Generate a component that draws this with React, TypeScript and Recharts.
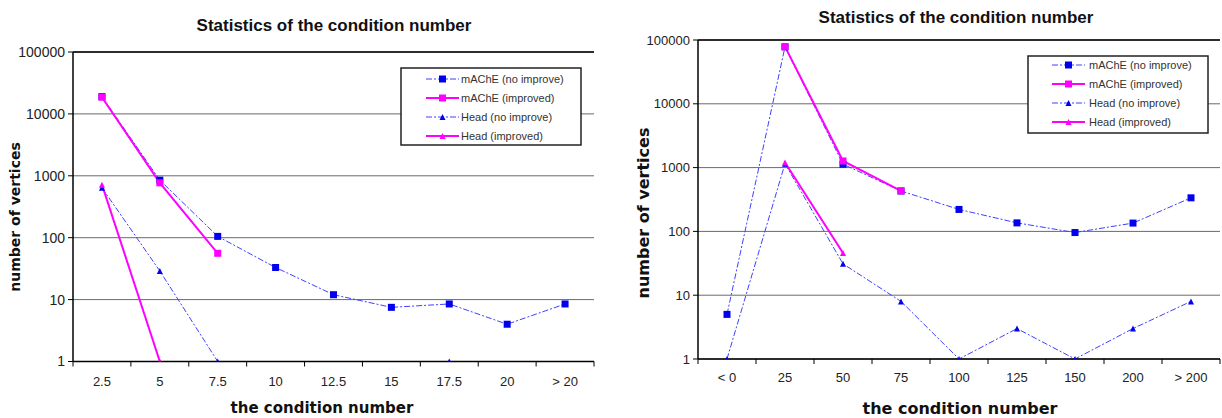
import React from "react";
import { LineChart, Line, XAxis, YAxis, CartesianGrid, ReferenceLine } from "recharts";

// left panel
const categoriesLeft = ["2.5", "5", "7.5", "10", "12.5", "15", "17.5", "20", "> 20"];
const macheNoLeft = [19000, 850, 105, 33, 12, 7.5, 8.5, 4, 8.5];
const macheImpLeft = [18600, 770, 56, null, null, null, null, null, null];
const headNoLeft = [640, 29, 1, null, null, null, 1, null, null];
const headImpLeft = [720, 1, null, null, null, null, null, null, null];

// right panel
const categoriesRight = ["< 0", "25", "50", "75", "100", "125", "150", "200", "> 200"];
const macheNoRight = [5, 78000, 1130, 430, 221, 136, 96, 135, 336];
const macheImpRight = [null, 78700, 1270, 432, null, null, null, null, null];
const headNoRight = [1, 1150, 31, 8, 1, 3, 1, 3, 8];
const headImpRight = [null, 1200, 46, null, null, null, null, null, null];

const yTicks = [1, 10, 100, 1000, 10000, 100000];
const seriesNames = ["mAChE (no improve)", "mAChE (improved)", "Head (no improve)", "Head (improved)"];

const BLUE = "#0000ee";
const BLUE_LINE = "#4040ff";
const MAGENTA = "#ff00ff";
const DASH = "6 2 2 2";
const ARIAL = "Arial, 'Liberation Sans'";

const square = (color: string, size: number) => (p: any) => {
  if (p.cx == null || p.cy == null || p.value == null) return <g key={p.index} />;
  return <rect key={p.index} x={p.cx - size / 2} y={p.cy - size / 2} width={size} height={size} fill={color} />;
};
const triangle = (color: string, size: number) => (p: any) => {
  if (p.cx == null || p.cy == null || p.value == null) return <g key={p.index} />;
  const h = size / 2;
  return <polygon key={p.index} points={`${p.cx},${p.cy - h} ${p.cx + h},${p.cy + h} ${p.cx - h},${p.cy + h}`} fill={color} />;
};

type PanelProps = {
  categories: string[];
  mNo: (number | null)[];
  mImp: (number | null)[];
  hNo: (number | null)[];
  hImp: (number | null)[];
  width: number;
  margin: { top: number; right: number; bottom: number; left: number };
  band: number;
  labelDy: number;
  yFont: number;
};

function Panel({ categories, mNo, mImp, hNo, hImp, width, margin, band, labelDy, yFont }: PanelProps) {
  const data = categories.map((c, i) => ({ cat: c, mNo: mNo[i], mImp: mImp[i], hNo: hNo[i], hImp: hImp[i] }));
  const last = categories.length - 1;
  const XTick = (p: any) => {
    const half = band / 2;
    return (
      <g>
        <line x1={p.x - half} y1={p.y} x2={p.x - half} y2={p.y + 5} stroke="#000" />
        {p.index === last && <line x1={p.x + half} y1={p.y} x2={p.x + half} y2={p.y + 5} stroke="#000" />}
        <text x={p.x} y={p.y + labelDy} textAnchor="middle" fontSize={13} fill="#222" fontFamily={ARIAL}>
          {p.payload.value}
        </text>
      </g>
    );
  };
  return (
    <LineChart width={width} height={418} data={data} margin={margin}>
      <CartesianGrid vertical={false} stroke="#6a6a6a" />
      <XAxis dataKey="cat" scale="band" height={30} tickSize={0} tickMargin={0} tickLine={false} axisLine={{ stroke: "#000", strokeWidth: 1.5 }} tick={XTick} interval={0} />
      <YAxis
        scale="log"
        type="number"
        domain={[1, 100000]}
        ticks={yTicks}
        allowDataOverflow
        width={60}
        tickSize={5}
        tickMargin={3}
        tickLine={{ stroke: "#000" }}
        axisLine={{ stroke: "#000", strokeWidth: 1.5 }}
        tick={{ fontSize: yFont, fill: "#222", fontFamily: ARIAL }}
      />
      <YAxis yAxisId="r" orientation="right" width={0} domain={[0, 1]} type="number" tick={false} tickLine={false} axisLine={{ stroke: "#000", strokeWidth: 1.5 }} />
      <ReferenceLine y={100000} stroke="#000" strokeWidth={1.5} />
      <Line dataKey="mNo" stroke={BLUE_LINE} strokeWidth={1} strokeDasharray={DASH} dot={square(BLUE, 7)} isAnimationActive={false} />
      <Line dataKey="mImp" stroke={MAGENTA} strokeWidth={2} dot={square(MAGENTA, 7)} isAnimationActive={false} />
      <Line dataKey="hNo" stroke={BLUE_LINE} strokeWidth={1} strokeDasharray={DASH} dot={triangle(BLUE, 6)} isAnimationActive={false} />
      <Line dataKey="hImp" stroke={MAGENTA} strokeWidth={2} dot={triangle(MAGENTA, 6)} isAnimationActive={false} />
    </LineChart>
  );
}

function LegendBox({ x, y, w, h, rowY, lineX1, lineX2, textX }: { x: number; y: number; w: number; h: number; rowY: number[]; lineX1: number; lineX2: number; textX: number }) {
  const mid = (lineX1 + lineX2) / 2;
  return (
    <g>
      <rect x={x} y={y} width={w} height={h} fill="#fff" stroke="#222" strokeWidth={1.5} />
      {seriesNames.map((name, i) => {
        const blue = i % 2 === 0;
        const color = blue ? BLUE : MAGENTA;
        const ry = rowY[i];
        return (
          <g key={name}>
            <line x1={lineX1} y1={ry} x2={lineX2} y2={ry} stroke={blue ? BLUE_LINE : MAGENTA} strokeWidth={blue ? 1 : 2} strokeDasharray={blue ? DASH : undefined} />
            {i < 2 ? (
              <rect x={mid - 3.5} y={ry - 3.5} width={7} height={7} fill={color} />
            ) : (
              <polygon points={`${mid},${ry - 3} ${mid + 3},${ry + 3} ${mid - 3},${ry + 3}`} fill={color} />
            )}
            <text x={textX} y={ry + 4} fontSize={11} fill="#333" fontFamily={ARIAL}>{name}</text>
          </g>
        );
      })}
    </g>
  );
}

export default function App() {
  const bold = "'DejaVu Sans', Verdana, sans-serif";
  return (
    <div style={{ position: "absolute", left: 0, top: 0, width: 1222, height: 418, background: "#fff", overflow: "hidden" }}>
      <div style={{ position: "absolute", left: 0, top: 0 }}>
        <Panel categories={categoriesLeft} mNo={macheNoLeft} mImp={macheImpLeft} hNo={headNoLeft} hImp={headImpLeft}
          width={610} margin={{ top: 52, right: 16, bottom: 26.5, left: 13 }} band={521 / 9} labelDy={24} yFont={14} />
      </div>
      <div style={{ position: "absolute", left: 610, top: 0 }}>
        <Panel categories={categoriesRight} mNo={macheNoRight} mImp={macheImpRight} hNo={headNoRight} hImp={headImpRight}
          width={612} margin={{ top: 40, right: 2, bottom: 29, left: 28 }} band={522 / 9} labelDy={23} yFont={13} />
      </div>
      <svg width={1222} height={418} style={{ position: "absolute", left: 0, top: 0, pointerEvents: "none" }}>
        <text x={334} y={31} textAnchor="middle" fontSize={17} fontWeight="bold" fontFamily={ARIAL} fill="#111">Statistics of the condition number</text>
        <text x={956} y={23} textAnchor="middle" fontSize={17} fontWeight="bold" fontFamily={ARIAL} fill="#111">Statistics of the condition number</text>
        <text x={322} y={413} textAnchor="middle" fontSize={15} fontWeight="bold" fontFamily={bold} fill="#111">the condition number</text>
        <text x={960} y={414} textAnchor="middle" fontSize={16} fontWeight="bold" fontFamily={bold} fill="#111">the condition number</text>
        <text x={0} y={0} transform="translate(20,217) rotate(-90)" textAnchor="middle" fontSize={14} fontWeight="bold" fontFamily={bold} fill="#111">number of vertices</text>
        <text x={0} y={0} transform="translate(649,213) rotate(-90)" textAnchor="middle" fontSize={16} fontWeight="bold" fontFamily={bold} fill="#111">number of vertices</text>
        <LegendBox x={401} y={68} w={180} h={77} rowY={[79, 98, 117, 136]} lineX1={426} lineX2={459} textX={461} />
        <LegendBox x={1028} y={56} w={180} h={77} rowY={[65, 84, 103, 122]} lineX1={1052} lineX2={1085} textX={1089} />
      </svg>
    </div>
  );
}
